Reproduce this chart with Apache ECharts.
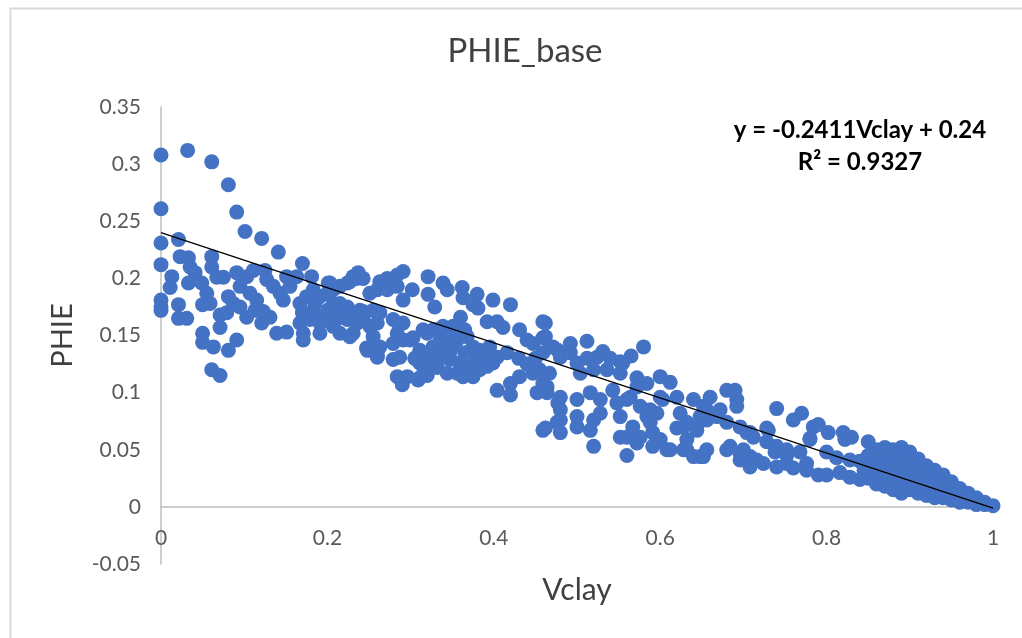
<!DOCTYPE html>
<html>
<head>
<meta charset="utf-8">
<script src="https://cdn.jsdelivr.net/npm/echarts@6/dist/echarts.min.js"></script>
<style>
html,body{margin:0;padding:0;background:#fff;}
#chart{width:1022px;height:638px;}
</style>
</head>
<body>
<div id="chart"></div>
<script>
// ---------- data (Vclay, PHIE) ----------
var ptsLeft = [
[0,0.308],[0.032,0.312],[0.061,0.302],[0.081,0.282],[0,0.261],[0.091,0.258],[0.101,0.241],[0.121,0.235],
[0.141,0.223],[0.17,0.213],[0,0.231],[0.021,0.234],[0,0.212],[0.061,0.219],[0.023,0.219],[0.033,0.218],
[0.181,0.2015],[0.201,0.196],[0.013,0.2015],[0.011,0.192],[0,0.181],[0,0.172],[0,0.175],[0.021,0.177],
[0.021,0.165],[0.031,0.165],[0.035,0.21],[0.041,0.205],[0.033,0.196],[0.049,0.196],[0.055,0.187],[0.05,0.177],
[0.059,0.178],[0.061,0.21],[0.067,0.201],[0.075,0.201],[0.081,0.184],[0.071,0.168],[0.079,0.17],
[0.071,0.157],[0.05,0.152],[0.05,0.144],[0.063,0.14],[0.081,0.137],[0.091,0.146],[0.061,0.12],[0.071,0.115],
[0.091,0.205],[0.095,0.193],[0.087,0.178],[0.095,0.175],[0.103,0.2015],[0.111,0.207],[0.107,0.187],[0.115,0.181],
[0.103,0.166],[0.113,0.172],[0.121,0.161],[0.125,0.207],[0.127,0.199],[0.135,0.193],[0.143,0.187],[0.123,0.171],
[0.131,0.166],[0.147,0.181],[0.155,0.193],[0.151,0.2015],[0.163,0.2015],[0.167,0.178],[0.175,0.184],[0.139,0.152],
[0.151,0.153],[0.171,0.152],[0.191,0.152],[0.215,0.152],[0.231,0.152],[0.171,0.146],[0.183,0.19],[0.191,0.184],
[0.2,0.187],[0.207,0.19],[0.215,0.193],[0.224,0.196],[0.231,0.2015],[0.237,0.205],[0.183,0.172],[0.2,0.172],
[0.215,0.17],[0.231,0.166],[0.167,0.161],[0.191,0.161],[0.207,0.158],[0.236,0.161],[0.203,0.196],[0.224,0.175],
[0.224,0.164],[0.227,0.149],[0.179,0.164],[0.195,0.164],[0.211,0.164],[0.207,0.178],[0.17,0.17],[0.185,0.178]
];
var ptsMid = [
[0.227,0.197],[0.235,0.2],[0.243,0.2],[0.263,0.197],[0.272,0.2],[0.284,0.203],[0.291,0.206],[0.26,0.19],
[0.272,0.19],[0.284,0.193],[0.302,0.19],[0.291,0.181],[0.321,0.2015],[0.339,0.196],[0.321,0.186],[0.329,0.175],
[0.344,0.19],[0.251,0.187],[0.239,0.172],[0.255,0.172],[0.263,0.17],[0.243,0.164],[0.251,0.158],[0.26,0.161],
[0.247,0.139],[0.26,0.133],[0.279,0.164],[0.291,0.161],[0.284,0.152],[0.279,0.143],[0.291,0.146],[0.303,0.148],
[0.279,0.129],[0.287,0.131],[0.284,0.114],[0.296,0.114],[0.311,0.113],[0.315,0.155],[0.327,0.155],[0.339,0.158],
[0.315,0.135],[0.327,0.14],[0.339,0.137],[0.347,0.135],[0.315,0.123],[0.327,0.126],
[0.362,0.192],[0.363,0.183],[0.38,0.186],[0.375,0.177],[0.381,0.174],[0.399,0.181],[0.42,0.177],[0.392,0.162],
[0.404,0.162],[0.411,0.157],[0.431,0.155],[0.44,0.146],[0.447,0.143],[0.36,0.166],[0.351,0.158],
[0.29,0.107],[0.309,0.111],[0.332,0.122],[0.363,0.114],[0.375,0.114],[0.392,0.123],[0.404,0.131],[0.416,0.135],
[0.42,0.108],[0.42,0.098],[0.431,0.114],[0.447,0.117],[0.455,0.12],[0.452,0.1],[0.404,0.102],
[0.243,0.171],[0.26,0.17],[0.255,0.149],[0.263,0.14],[0.248,0.137],[0.26,0.131],[0.285,0.161],[0.299,0.146],
[0.32,0.152],[0.332,0.155],[0.339,0.149],[0.347,0.146],[0.356,0.146],[0.368,0.149],[0.375,0.14],[0.383,0.137],
[0.392,0.131],[0.399,0.126],[0.311,0.137],[0.323,0.135],[0.335,0.131],[0.347,0.129],[0.359,0.126],[0.371,0.123],
[0.383,0.12],[0.311,0.126],[0.344,0.117],[0.356,0.117],[0.215,0.178],
[0.335,0.145],[0.35,0.14],[0.365,0.135],[0.38,0.13],[0.395,0.14],[0.365,0.155],[0.43,0.13],[0.44,0.125],
[0.45,0.13],[0.305,0.13],[0.32,0.115]
];
var ptsMid2 = [
[0.459,0.162],[0.459,0.148],[0.471,0.14],[0.477,0.137],[0.467,0.117],[0.464,0.105],[0.459,0.067],[0.476,0.074],
[0.477,0.091],[0.462,0.161],[0.462,0.149],[0.468,0.14],[0.459,0.135],[0.492,0.143],[0.512,0.145],[0.48,0.131],
[0.492,0.135],[0.5,0.126],[0.512,0.13],[0.524,0.131],[0.531,0.136],[0.54,0.13],[0.552,0.127],[0.504,0.117],
[0.52,0.12],[0.536,0.12],[0.552,0.117],[0.572,0.113],[0.572,0.105],[0.6,0.114],[0.612,0.109],[0.459,0.108],
[0.464,0.1],[0.48,0.096],[0.48,0.085],[0.48,0.076],[0.48,0.065],[0.462,0.069],[0.5,0.094],[0.5,0.079],
[0.5,0.07],[0.516,0.1],[0.528,0.094],[0.528,0.082],[0.52,0.076],[0.516,0.067],[0.52,0.053],[0.543,0.102],
[0.548,0.091],[0.552,0.079],[0.552,0.061],[0.564,0.096],[0.576,0.088],[0.567,0.07],[0.576,0.061],[0.572,0.056],
[0.56,0.045],[0.588,0.085],[0.588,0.074],[0.591,0.065],[0.6,0.059],[0.608,0.05],[0.6,0.096],[0.62,0.096],
[0.624,0.082],[0.628,0.07],[0.62,0.069],[0.632,0.059],[0.628,0.05],[0.64,0.044],[0.652,0.044],[0.64,0.094],
[0.652,0.088],[0.644,0.07],[0.656,0.076],[0.66,0.096],[0.68,0.102],[0.692,0.094],[0.692,0.088],[0.672,0.085],
[0.68,0.074],[0.696,0.07],[0.708,0.065],[0.68,0.05],[0.696,0.047],[0.708,0.044],[0.708,0.035],[0.555,0.126],
[0.584,0.108],[0.56,0.094],[0.584,0.079],[0.596,0.082],[0.603,0.094],[0.56,0.061],[0.591,0.053],[0.612,0.05],
[0.632,0.074],[0.644,0.067],[0.648,0.079],[0.656,0.085],[0.632,0.05],[0.648,0.044],[0.656,0.05],[0.668,0.079],
[0.704,0.065],[0.712,0.061],[0.684,0.053],[0.7,0.05],[0.712,0.041],[0.724,0.038],[0.696,0.041],[0.716,0.041],
[0.69,0.102],[0.58,0.14],[0.565,0.132]
];
var ptsRight = [
[0.74,0.086],[0.76,0.076],[0.77,0.082],[0.784,0.07],[0.78,0.059],[0.73,0.067],[0.728,0.057],[0.728,0.069],
[0.74,0.053],[0.752,0.05],[0.752,0.038],[0.776,0.038],[0.79,0.072],[0.802,0.065],[0.78,0.06],[0.82,0.065],
[0.83,0.061],[0.822,0.059],[0.85,0.057],[0.738,0.048],[0.752,0.045],[0.768,0.048],[0.8,0.048],[0.74,0.035],
[0.76,0.034],[0.776,0.032],[0.79,0.028],[0.8,0.028],[0.816,0.03],[0.828,0.026],[0.84,0.024],[0.812,0.043],
[0.828,0.041],[0.84,0.04],[0.845,0.032],
[0.85,0.045],[0.85,0.035],[0.85,0.025],[0.86,0.05],[0.86,0.04],[0.86,0.03],[0.86,0.02],
[0.87,0.052],[0.87,0.045],[0.87,0.035],[0.87,0.025],[0.87,0.018],[0.88,0.05],[0.88,0.04],[0.88,0.03],
[0.88,0.02],[0.88,0.015],[0.89,0.052],[0.89,0.045],[0.89,0.035],[0.89,0.028],[0.89,0.02],[0.89,0.012],
[0.9,0.048],[0.9,0.04],[0.9,0.03],[0.9,0.022],[0.9,0.015],[0.91,0.042],[0.91,0.035],[0.91,0.027],
[0.91,0.018],[0.91,0.012],[0.92,0.036],[0.92,0.03],[0.92,0.022],[0.92,0.015],[0.92,0.01],[0.93,0.032],
[0.93,0.025],[0.93,0.018],[0.93,0.012],[0.93,0.008],[0.94,0.028],[0.94,0.02],[0.94,0.014],[0.94,0.008],
[0.95,0.022],[0.95,0.016],[0.95,0.01],[0.95,0.006],[0.96,0.016],[0.96,0.012],[0.96,0.007],[0.96,0.004],
[0.97,0.012],[0.97,0.008],[0.97,0.004],[0.98,0.008],[0.98,0.004],[0.98,0.002],[0.99,0.004],[0.99,0.002],[1,0.001]
];
// linear trendline endpoints (y = -0.2411 Vclay + 0.24)
var trendLine = [[0,0.24],[1,-0.0011]];
var xTicks = [0,0.2,0.4,0.6,0.8,1];
var yTicks = [-0.05,0,0.05,0.1,0.15,0.2,0.25,0.3,0.35];
var titleText = 'PHIE_base';
var eqText = 'y = -0.2411Vclay + 0.24\nR² = 0.9327';
var xName = 'Vclay', yName = 'PHIE';

var FONT = 'Lato';
var chart = echarts.init(document.getElementById('chart'));
var pts = ptsLeft.concat(ptsMid, ptsMid2, ptsRight);
function fmt(list){return function(v){var t=list.filter(function(a){return Math.abs(a-v)<1e-9;});return t.length?String(t[0]):'';};}
chart.setOption({
  animation:false,
  backgroundColor:'#fff',
  textStyle:{fontFamily:FONT},
  title:[
    {text:titleText, left:520, top:30, textAlign:'center',
     textStyle:{fontFamily:FONT,fontSize:33,fontWeight:'normal',color:'#404040'}},
    {text:eqText, left:855, top:109, textAlign:'center',
     textStyle:{fontFamily:FONT,fontSize:24,fontWeight:'bold',color:'#000',lineHeight:32}}
  ],
  graphic:[
    {type:'rect',left:8,top:6,shape:{width:1100,height:700},
     style:{fill:'none',stroke:'#d9d9d9',lineWidth:2},silent:true},
    {type:'text',x:577,y:590,style:{text:xName,fontFamily:FONT,fontSize:30,fill:'#404040',
     textAlign:'center',textVerticalAlign:'middle'}}
  ],
  grid:{left:161,right:29,top:107,bottom:74,outerBoundsMode:'none',containLabel:false},
  xAxis:{type:'value',min:xTicks[0],max:xTicks[xTicks.length-1],interval:0.2,
    axisLine:{onZero:true,lineStyle:{color:'#bfbfbf',width:1.5}},
    axisTick:{show:false},splitLine:{show:false},
    axisLabel:{color:'#595959',fontSize:21,margin:-36,fontFamily:FONT,formatter:fmt(xTicks)}},
  yAxis:{type:'value',min:yTicks[0],max:yTicks[yTicks.length-1],interval:0.05,
    name:yName,nameLocation:'middle',nameGap:84,nameRotate:90,
    nameTextStyle:{fontFamily:FONT,fontSize:29,color:'#404040'},
    axisLine:{show:true,onZero:false,lineStyle:{color:'#bfbfbf',width:1.5}},
    axisTick:{show:false},splitLine:{show:false},
    axisLabel:{color:'#595959',fontSize:21,margin:20,fontFamily:FONT,formatter:fmt(yTicks)}},
  series:[
    {type:'scatter',data:pts,symbolSize:15,itemStyle:{color:'#4472C4',opacity:1},z:2},
    {type:'line',data:trendLine,showSymbol:false,symbol:'none',lineStyle:{color:'#000',width:1.3},z:3}
  ]
});
</script>
</body>
</html>
